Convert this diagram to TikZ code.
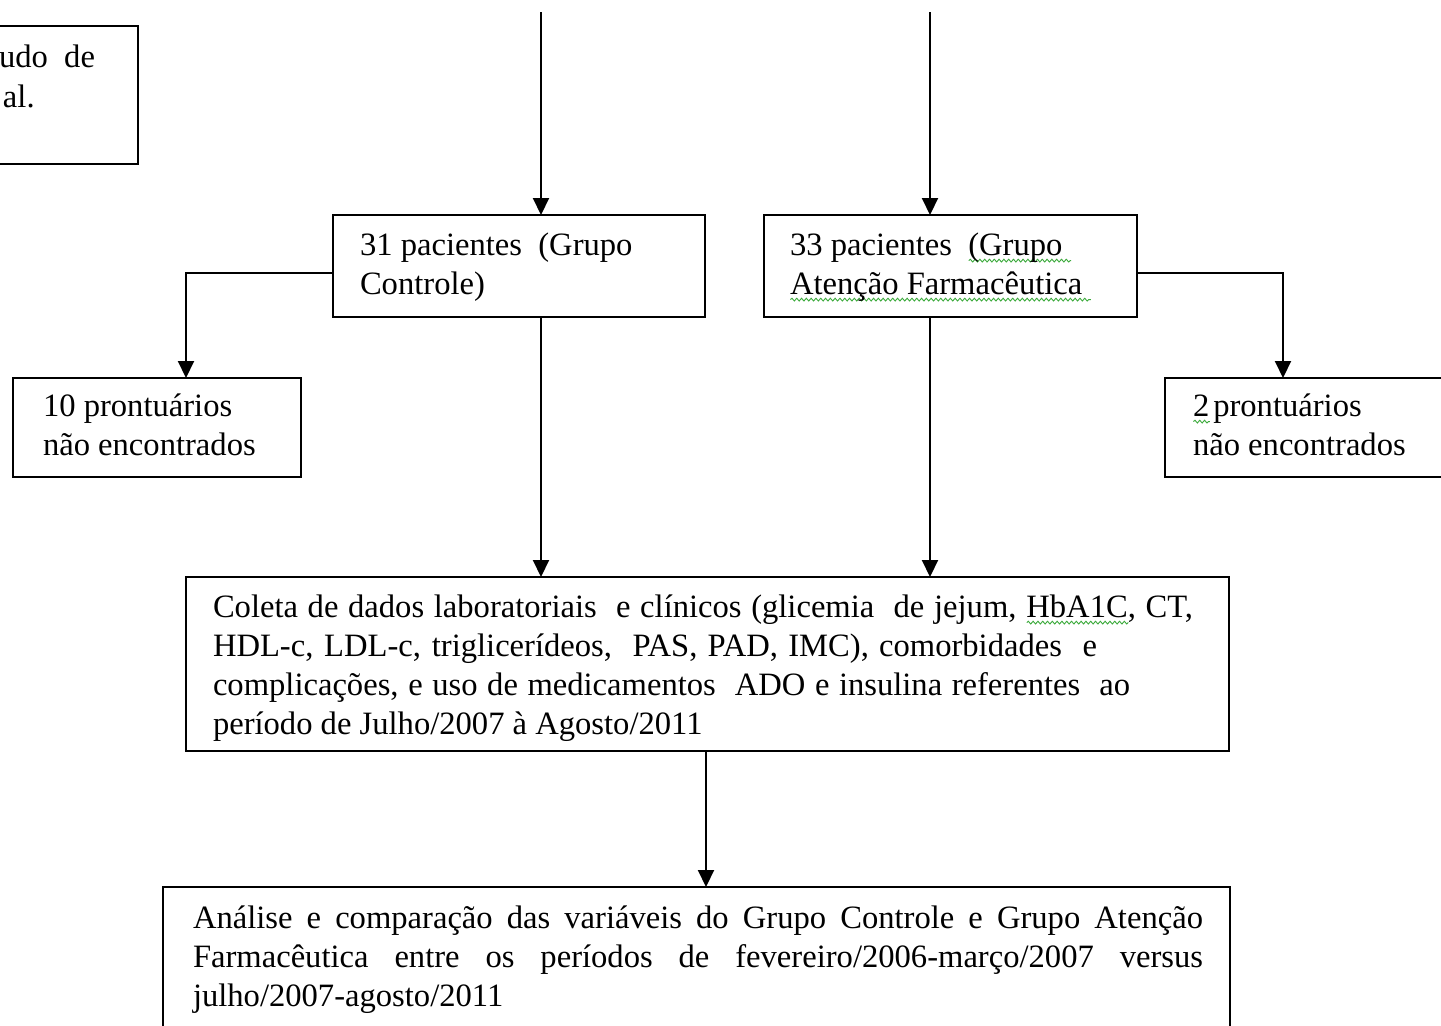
\documentclass[tikz,border=0pt]{standalone}
\usepackage{fontspec}
\setmainfont{Liberation Serif}
\usetikzlibrary{arrows.meta,decorations.pathmorphing}
\definecolor{spellgreen}{RGB}{60,170,60}
\newlength\gwlen
\newcommand\gwave[1]{\settowidth\gwlen{#1}\rlap{\tikz[baseline=0pt,x=1pt,y=1pt]\draw[spellgreen,line width=0.45pt,decorate,decoration={snake,segment length=2.4pt,amplitude=0.7pt}] (0pt,-2.8pt) -- (\gwlen,-2.8pt);}#1}
\begin{document}
\begin{tikzpicture}[x=0.5pt,y=-0.5pt,
  box/.style={draw=black,line width=1.2pt,inner sep=0pt,outer sep=0pt,fill=none},
  txt/.style={anchor=base west,inner sep=0pt,outer sep=0pt,font=\fontsize{16.3}{19.5}\selectfont},
  arr/.style={line width=1pt,-{Triangle[length=8.5pt,width=8pt]}}]
\useasboundingbox (0,0) rectangle (1441,1025);
\clip (0,0) rectangle (1441,1025);
\fill[white] (0,0) rectangle (1441,1025);
% boxes
\node[box,minimum width=119pt,minimum height=69pt] (TL) at (19,95) {};
\node[box,minimum width=186pt,minimum height=51pt] (A) at (519,266) {};
\node[box,minimum width=186.5pt,minimum height=51pt] (B) at (950.5,266) {};
\node[box,minimum width=144pt,minimum height=49.5pt] (C) at (157,427.5) {};
\node[box,minimum width=167.5pt,minimum height=49.5pt] (D) at (1332.5,427.5) {};
\node[box,minimum width=521.5pt,minimum height=87pt] (E) at (707.5,664) {};
\node[box,minimum width=533.5pt,minimum height=106.5pt] (F) at (696.5,993.5) {};
% texts
\node[txt] (tl1) at (-1,67) {udo\ \ de};
\node[txt] (tl2) at (3,107) {al.};
\node[txt] (a1) at (360,255) {31 pacientes\ \ (Grupo};
\node[txt] (a2) at (360,294) {Controle)};
\node[txt] (b1) at (790,255) {33 pacientes\ \ \gwave{(Grupo\ }};
\node[txt] (b2) at (790,294) {\gwave{Atenção Farmacêutica\ }};
\node[txt] (c1) at (43,416) {10 prontuários};
\node[txt] (c2) at (43,455) {não encontrados};
\node[txt] (d1) at (1193,416) {\gwave{2}\kern2pt prontuários};
\node[txt] (d2) at (1193,455) {não encontrados};
\node[txt] (e1) at (213,617) {\makebox[490pt][s]{Coleta de dados laboratoriais\ \ e clínicos (glicemia\ \ de jejum, \gwave{HbA1C}, CT,}};
\node[txt] (e2) at (213,656) {\makebox[442pt][s]{HDL-c, LDL-c, triglicerídeos,\ \ PAS, PAD, IMC), comorbidades\ \ e}};
\node[txt] (e3) at (213,695) {\makebox[458.5pt][s]{complicações, e uso de medicamentos\ \ ADO e insulina referentes\ \ ao}};
\node[txt] (e4) at (213,734) {período de Julho/2007 à Agosto/2011};
\node[txt] (f1) at (193,928) {\makebox[505pt][s]{Análise e comparação das variáveis do Grupo Controle e Grupo Atenção}};
\node[txt] (f2) at (193,967) {\makebox[505pt][s]{Farmacêutica entre os períodos de fevereiro/2006-março/2007 versus}};
\node[txt] (f3) at (193,1006) {julho/2007-agosto/2011};
% connector coordinates
\coordinate (t1) at (541,12);
\coordinate (t2) at (930,12);
\coordinate (cL) at (186,273);
\coordinate (cR) at (1283,273);
\coordinate (cM) at (706,800);
% connectors
\draw[arr] (t1) -- (A.north -| t1);
\draw[arr] (t2) -- (B.north -| t2);
\draw[arr] (A.west |- cL) -| (C.north -| cL);
\draw[arr] (B.east |- cR) -| (D.north -| cR);
\draw[arr] (A.south -| t1) -- (E.north -| t1);
\draw[arr] (B.south -| t2) -- (E.north -| t2);
\draw[arr] (E.south -| cM) -- (F.north -| cM);
\end{tikzpicture}
\end{document}
